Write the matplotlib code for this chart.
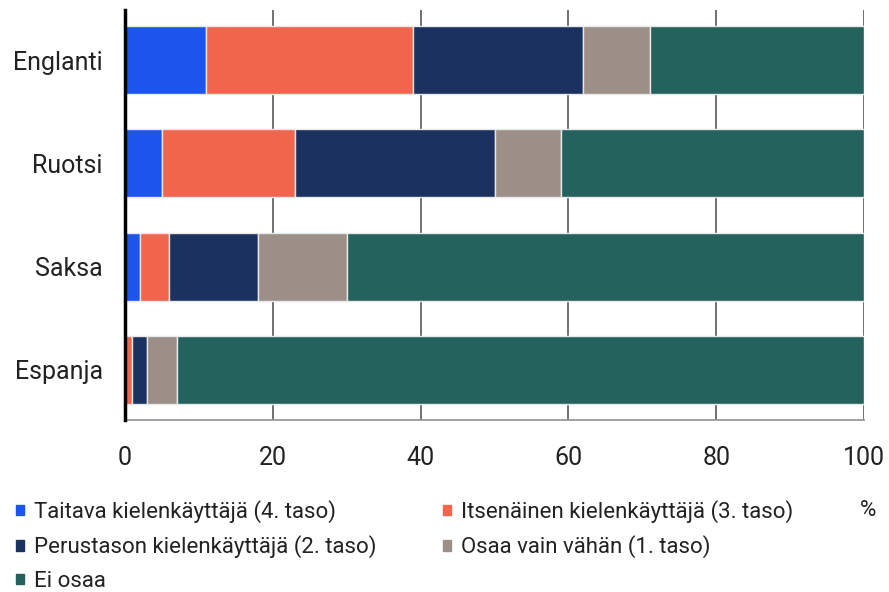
import numpy as np
import matplotlib.pyplot as plt
from matplotlib.patches import Patch

plt.rcParams['font.family'] = ['Roboto', 'DejaVu Sans']

languages = ["Englanti", "Ruotsi", "Saksa", "Espanja"]
levels = [
    "Taitava kielenkäyttäjä (4. taso)",
    "Itsenäinen kielenkäyttäjä (3. taso)",
    "Perustason kielenkäyttäjä (2. taso)",
    "Osaa vain vähän (1. taso)",
    "Ei osaa",
]
taso4 = [11, 5, 2, 0]
taso3 = [28, 18, 4, 1]
taso2 = [23, 27, 12, 2]
taso1 = [9, 9, 12, 4]
ei_osaa = [29, 41, 70, 93]
colors = ["#1c55ec", "#f2654d", "#1b3160", "#9b8f88", "#24625d"]

fig = plt.figure(figsize=(8.89, 5.92), dpi=100)
ax = fig.add_axes([125 / 889, 1 - 420 / 592, (864 - 125) / 889, 410 / 592])

y = np.arange(len(languages))
left = np.zeros(len(languages))
for vals, col, lab in zip([taso4, taso3, taso2, taso1, ei_osaa], colors, levels):
    ax.barh(y, vals, left=left, height=0.66, color=col, edgecolor="#e8e8e8",
            linewidth=1, label=lab, zorder=3)
    left += np.array(vals)

ax.set_xlim(0, 100)
ax.set_ylim(3.49, -0.49)
ax.set_yticks(y)
ax.set_yticklabels(languages, fontsize=18, color="#222222")
ax.set_xticks([0, 20, 40, 60, 80, 100])
ax.set_xticklabels(["0", "20", "40", "60", "80", "100"], fontsize=18, color="#222222")
ax.tick_params(axis="x", length=0, pad=19)
ax.tick_params(axis="y", length=0, pad=16)
ax.grid(axis="x", color="#666666", linewidth=1.3, zorder=0)
for s in ["top", "right"]:
    ax.spines[s].set_visible(False)
ax.spines["left"].set_color("black")
ax.spines["left"].set_linewidth(2.5)
ax.spines["left"].set_zorder(4)
ax.spines["bottom"].set_color("#999999")
ax.spines["bottom"].set_linewidth(1.3)

handles = [Patch(color=c) for c in colors]
order = [0, 2, 4, 1, 3]
fig.legend([handles[i] for i in order], [levels[i] for i in order], ncol=2,
           loc="upper left", bbox_to_anchor=(16 / 889, 1 - 500 / 592),
           frameon=False, fontsize=16, handlelength=0.35, handleheight=0.35,
           handletextpad=0.45, columnspacing=3.0, labelspacing=0.56,
           borderpad=0, borderaxespad=0, labelcolor="#222222")
fig.text(868 / 889, 1 - 511 / 592, "%", fontsize=16, color="#222222",
         ha="center", va="center")

fig.savefig("out.png", dpi=100)
